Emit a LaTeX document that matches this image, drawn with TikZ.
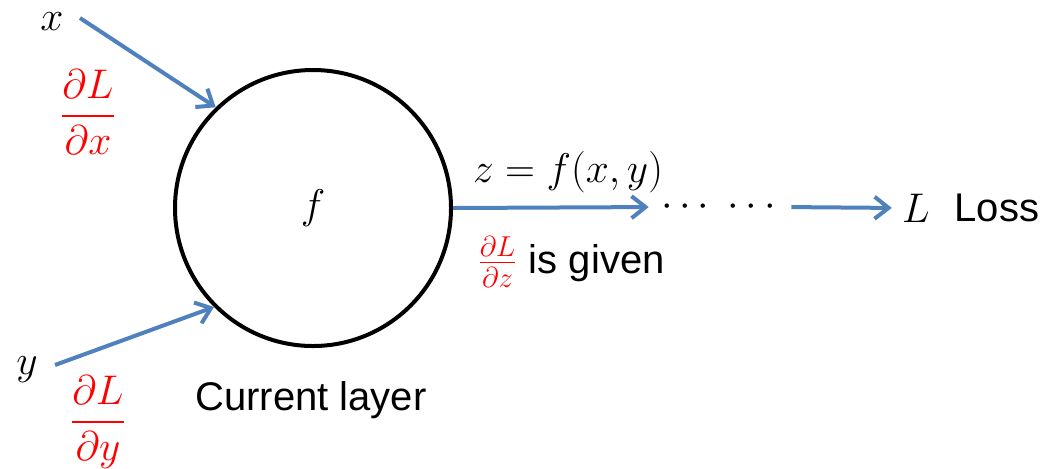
\documentclass[tikz,border=0pt]{standalone}
\usepackage[no-math]{fontspec}
\setmainfont{Liberation Sans}
\usepackage{amsmath}
\usetikzlibrary{arrows.meta,positioning}
\definecolor{flowBlue}{HTML}{4F81BD}
\definecolor{gradRed}{HTML}{FF0000}

\begin{document}
\begin{tikzpicture}[x=0.5pt,y=-0.5pt,
	flow/.style={draw=flowBlue,line width=2pt,-{Straight Barb[length=7pt,width=11pt]}},
	lbl/.style={font=\fontsize{20}{24}\selectfont,inner sep=0pt},
	grad/.style={lbl,text=gradRed}]
	\useasboundingbox (0,0) rectangle (1042,468);
	% current layer
	\node[lbl,circle,draw,line width=2pt,minimum size=138pt] (cur) at (313,208) {$f$};
	\node[lbl] (curTxt) at (311,400) {Current layer};
	% inputs and their gradients
	\node[lbl] (xin) at (52,22) {$x$};
	\node[grad] (dLdx) at (88,112) {$\dfrac{\partial L}{\partial x}$};
	\node[lbl] (yin) at (27,370) {$y$};
	\node[grad] (dLdy) at (98,422) {$\dfrac{\partial L}{\partial y}$};
	\coordinate (xtail) at (80,18);
	\coordinate (ytail) at (55,365);
	\draw[flow] (xtail) -- (cur.134);
	\draw[flow] (ytail) -- (cur.225);
	% output side
	\node[lbl] (zout) at (568,172) {$z=f(x,y)$};
	\node[lbl] (given) at (571,262) {\textcolor{gradRed}{$\frac{\partial L}{\partial z}$} is given};
	\node[lbl] (dots) at (722,207) {$\cdots\ \cdots$};
	\node[lbl] (lvar) at (916,208) {$L$};
	\node[lbl,right=12pt of lvar] (loss) {Loss};
	\draw[flow,shorten >=6pt] (cur.east) -- (dots.west);
	\draw[flow,shorten <=4pt,shorten >=5pt] (dots.east) -- (lvar.west);
\end{tikzpicture}
\end{document}
